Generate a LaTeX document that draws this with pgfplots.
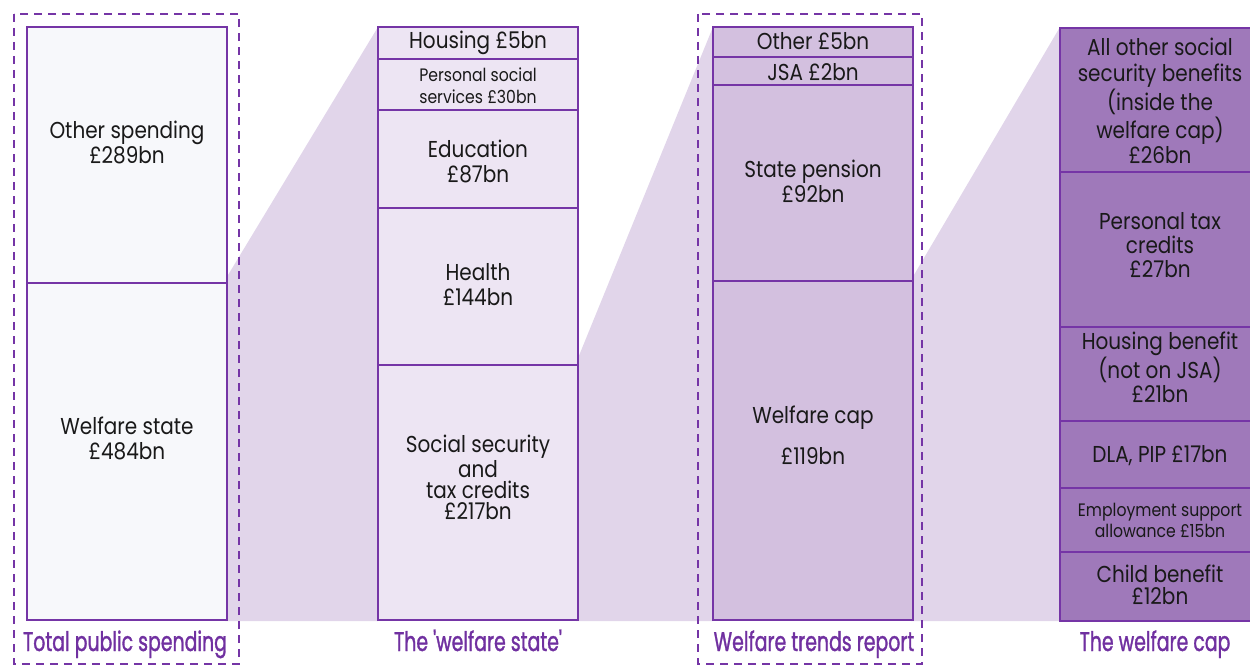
\documentclass[border=0pt]{standalone}
\usepackage{fontspec}
\usepackage{pgfplots}
\pgfplotsset{compat=1.18}
\usetikzlibrary{backgrounds}
\newfontfamily\inner[FakeStretch=0.87]{Poppins}
\newfontfamily\bottomf[FakeStretch=0.70,FakeBold=1.2]{Poppins}
\definecolor{edge}{HTML}{7535A6}
\definecolor{fillA}{HTML}{F7F8FB}
\definecolor{fillB}{HTML}{EDE5F3}
\definecolor{fillC}{HTML}{D3C0DF}
\definecolor{fillD}{HTML}{9F79BA}
\definecolor{link}{HTML}{E1D5EA}
\definecolor{captxt}{HTML}{7030A0}
\definecolor{inkD}{HTML}{F3EEF7}

% displayed segment heights (px of the 593 px column), bottom to top
\pgfplotsset{
  col/.style={
    anchor=south west, scale only axis, width=100pt, height=296.5pt,
    xmin=-0.5, xmax=0.5, ymin=0, ymax=593, hide axis, clip=false,
    ybar stacked, bar width=1,
  },
}

\begin{document}
\begin{tikzpicture}
\useasboundingbox (0,0) rectangle (625pt,333pt);
\clip (0,0) rectangle (625pt,333pt);

% Total public spending: welfare state 484, other 289
\begin{axis}[col, at={(13.5pt,23pt)}]
\addplot[fill=fillA, draw=edge, line width=1pt] coordinates {(0,337)};
\addplot[fill=fillA, draw=edge, line width=1pt] coordinates {(0,256)};
\end{axis}

% The welfare state: SS 217, health 144, education 87, PSS 30, housing 5
\begin{axis}[col, at={(189pt,23pt)}]
\addplot[fill=fillB, draw=edge, line width=1pt] coordinates {(0,255)};
\addplot[fill=fillB, draw=edge, line width=1pt] coordinates {(0,157)};
\addplot[fill=fillB, draw=edge, line width=1pt] coordinates {(0,98)};
\addplot[fill=fillB, draw=edge, line width=1pt] coordinates {(0,51)};
\addplot[fill=fillB, draw=edge, line width=1pt] coordinates {(0,32)};
\end{axis}

% Welfare trends report: cap 119, state pension 92, JSA 2, other 5
\begin{axis}[col, at={(356.5pt,23pt)}]
\addplot[fill=fillC, draw=edge, line width=1pt] coordinates {(0,339)};
\addplot[fill=fillC, draw=edge, line width=1pt] coordinates {(0,196)};
\addplot[fill=fillC, draw=edge, line width=1pt] coordinates {(0,28)};
\addplot[fill=fillC, draw=edge, line width=1pt] coordinates {(0,30)};
\end{axis}

% The welfare cap: CB 12, ESA 15, DLA/PIP 17, HB 21, PTC 27, other 26
\begin{axis}[col, width=102.5pt, at={(530pt,22.5pt)}]
\addplot[fill=fillD, draw=edge, line width=1pt] coordinates {(0,69)};
\addplot[fill=fillD, draw=edge, line width=1pt] coordinates {(0,64)};
\addplot[fill=fillD, draw=edge, line width=1pt] coordinates {(0,67)};
\addplot[fill=fillD, draw=edge, line width=1pt] coordinates {(0,94)};
\addplot[fill=fillD, draw=edge, line width=1pt] coordinates {(0,155)};
\addplot[fill=fillD, draw=edge, line width=1pt] coordinates {(0,144)};
\end{axis}

% drill-down wedges, behind the columns
\begin{scope}[on background layer, x=0.5pt, y=-0.5pt, yshift=333pt]
\fill[link] (225,280) -- (378,27) -- (378,621) -- (225,621) -- cycle;
\fill[link] (378,621) rectangle (713,400);
\fill[link] (576,363) -- (713,27) -- (713,621) -- (576,621) -- cycle;
\fill[link] (713,621) rectangle (1060,400);
\fill[link] (911,280) -- (1060,27) -- (1060,621) -- (911,621) -- cycle;
\end{scope}

\begin{scope}[x=0.5pt, y=-0.5pt, yshift=333pt,
  lab/.style={align=center, inner sep=0pt, text=black!90,
    font=\inner\fontsize{11.5}{12.5}\selectfont},
  sml/.style={align=center, inner sep=0pt, text=black!90,
    font=\inner\fontsize{9}{11}\selectfont},
  btm/.style={inner sep=0pt, anchor=base, text=captxt,
    font=\bottomf\fontsize{13.5}{15}\selectfont},
]
\draw[edge, line width=1pt, dash pattern=on 4pt off 3pt] (14,14) rectangle (239,664);
\draw[edge, line width=1pt, dash pattern=on 4pt off 3pt] (698,14) rectangle (922,664);

\node[lab] at (127,142) {Other spending\\£289bn};
\node[lab] at (127,438) {Welfare state\\£484bn};

\node[lab] at (478,43) {Housing £5bn};
\node[sml] at (478,86) {Personal social\\services £30bn};
\node[lab] at (478,161) {Education\\£87bn};
\node[lab] at (478,285) {Health\\£144bn};
\node[lab, font=\inner\fontsize{11.5}{10.5}\selectfont] at (478,477) {Social security\\and\\tax credits\\£217bn};

\node[lab] at (813,41) {Other £5bn};
\node[lab] at (813,72) {JSA £2bn};
\node[lab] at (813,181) {State pension\\£92bn};
\node[lab] at (813,418) {Welfare cap};
\node[lab] at (813,456) {£119bn};

\begin{scope}[every node/.append style={text=inkD}]
\node[lab, font=\inner\fontsize{11.5}{12.8}\selectfont] at (1160,101) {All other social\\security benefits\\(inside the\\welfare cap)\\£26bn};
\node[lab, font=\inner\fontsize{11.5}{11.8}\selectfont] at (1160,245) {Personal tax\\credits\\£27bn};
\node[lab, font=\inner\fontsize{11.5}{10.3}\selectfont] at (1160,367) {Housing benefit\\(not on JSA)\\£21bn};
\node[lab] at (1160,456) {DLA, PIP £17bn};
\node[sml, font=\inner\fontsize{9}{10.5}\selectfont] at (1160,520) {Employment support\\allowance £15bn};
\node[lab, font=\inner\fontsize{11.5}{10.8}\selectfont] at (1160,585) {Child benefit\\£12bn};
\end{scope}

\node[btm] at (125,651) {Total public spending};
\node[btm] at (478,651) {The 'welfare state'};
\node[btm] at (814,651) {Welfare trends report};
\node[btm] at (1155,651) {The welfare cap};
\end{scope}
\end{tikzpicture}
\end{document}
